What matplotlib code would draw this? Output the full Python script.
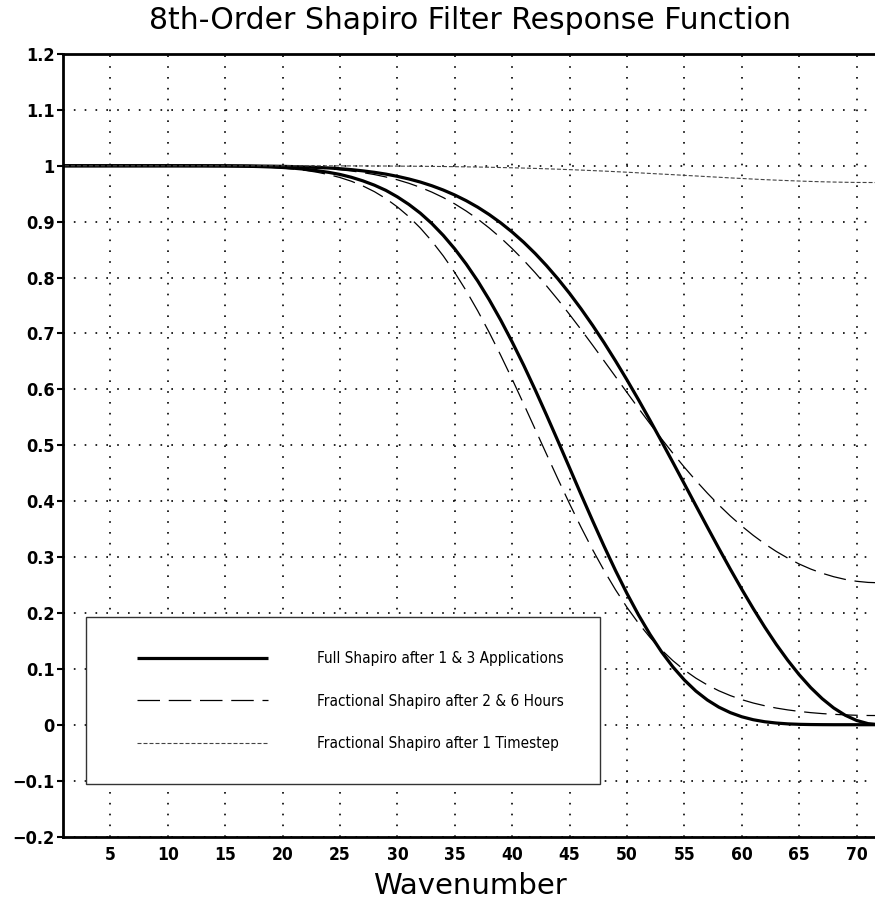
import matplotlib
matplotlib.use("Agg")
import matplotlib.pyplot as plt
from matplotlib.patches import Rectangle

# wavenumbers and response values
wavenumber = list(range(0, 73))

full_1app = [1, 1, 1, 1, 1, 1, 1, 1, 1, 1, 1, 1, 1.0, 1.0, 0.9999, 0.9999, 0.9998,
             0.9997, 0.9995, 0.9993, 0.9990, 0.9985, 0.9979, 0.9971, 0.9961, 0.9948,
             0.9931, 0.9909, 0.9883, 0.9851, 0.9811, 0.9764, 0.9709, 0.9643, 0.9566,
             0.9477, 0.9375, 0.9259, 0.9127, 0.8979, 0.8814, 0.8632, 0.8431, 0.8211,
             0.7973, 0.7716, 0.7440, 0.7147, 0.6836, 0.6509, 0.6168, 0.5814, 0.5448,
             0.5073, 0.4692, 0.4307, 0.3920, 0.3535, 0.3155, 0.2783, 0.2422, 0.2076,
             0.1746, 0.1437, 0.1153, 0.0894, 0.0664, 0.0466, 0.0300, 0.0170, 0.0076,
             0.0019, 0.0]

full_3app = [1, 1, 1, 1, 1, 1, 1, 1, 1, 1, 1, 1.0, 0.9999, 0.9999, 0.9998, 0.9997,
             0.9994, 0.9991, 0.9986, 0.9979, 0.9970, 0.9956, 0.9938, 0.9913, 0.9883,
             0.9845, 0.9794, 0.9730, 0.9653, 0.9560, 0.9444, 0.9309, 0.9152, 0.8967,
             0.8754, 0.8512, 0.8240, 0.7938, 0.7603, 0.7239, 0.6847, 0.6432, 0.5993,
             0.5536, 0.5068, 0.4594, 0.4118, 0.3651, 0.3195, 0.2758, 0.2347, 0.1965,
             0.1617, 0.1306, 0.1033, 0.0799, 0.0602, 0.0442, 0.0314, 0.0216, 0.0142,
             0.0089, 0.0053, 0.0030, 0.0015, 0.0007, 0.0003, 0.0001, 0.0, 0.0, 0.0,
             0.0, 0.0]

frac_2h = [1, 1, 1, 1, 1, 1, 1, 1, 1, 1, 1, 1, 1.0, 0.9999, 0.9999, 0.9998, 0.9997,
           0.9996, 0.9994, 0.9991, 0.9986, 0.9980, 0.9972, 0.9961, 0.9947, 0.9929,
           0.9907, 0.9878, 0.9843, 0.9800, 0.9749, 0.9687, 0.9614, 0.9529, 0.9431,
           0.9318, 0.9190, 0.9047, 0.8887, 0.8711, 0.8518, 0.8310, 0.8087, 0.7849,
           0.7600, 0.7339, 0.7069, 0.6792, 0.6510, 0.6227, 0.5943, 0.5662, 0.5386,
           0.5117, 0.4856, 0.4606, 0.4368, 0.4143, 0.3931, 0.3734, 0.3553, 0.3387,
           0.3236, 0.3100, 0.2981, 0.2875, 0.2785, 0.2710, 0.2648, 0.2600, 0.2566,
           0.2546, 0.2539]

frac_6h = [1, 1, 1, 1, 1, 1, 1, 1, 1, 1, 1, 1.0, 0.9999, 0.9998, 0.9997, 0.9995,
           0.9992, 0.9988, 0.9981, 0.9972, 0.9959, 0.9941, 0.9917, 0.9885, 0.9843,
           0.9790, 0.9723, 0.9639, 0.9537, 0.9413, 0.9264, 0.9090, 0.8886, 0.8652,
           0.8387, 0.8090, 0.7762, 0.7404, 0.7018, 0.6609, 0.6181, 0.5739, 0.5288,
           0.4836, 0.4389, 0.3952, 0.3532, 0.3133, 0.2760, 0.2414, 0.2099, 0.1816,
           0.1563, 0.1340, 0.1145, 0.0977, 0.0833, 0.0711, 0.0607, 0.0521, 0.0448,
           0.0388, 0.0339, 0.0298, 0.0265, 0.0238, 0.0216, 0.0199, 0.0186, 0.0176,
           0.0169, 0.0165, 0.0164]

frac_1step = [1, 1, 1, 1, 1, 1, 1, 1, 1, 1, 1, 1, 1, 1, 1, 1, 1, 1, 1, 1, 1, 1.0,
              0.9999, 0.9999, 0.9999, 0.9998, 0.9998, 0.9997, 0.9996, 0.9996, 0.9994,
              0.9993, 0.9991, 0.9989, 0.9987, 0.9984, 0.9981, 0.9978, 0.9974, 0.9969,
              0.9964, 0.9959, 0.9953, 0.9946, 0.9939, 0.9931, 0.9923, 0.9914, 0.9905,
              0.9895, 0.9885, 0.9874, 0.9863, 0.9852, 0.9841, 0.9829, 0.9818, 0.9806,
              0.9795, 0.9783, 0.9773, 0.9762, 0.9752, 0.9743, 0.9735, 0.9727, 0.9720,
              0.9714, 0.9709, 0.9705, 0.9702, 0.9701, 0.9700]

xticks = [5, 10, 15, 20, 25, 30, 35, 40, 45, 50, 55, 60, 65, 70]
yticks = [-0.2, -0.1, 0, 0.1, 0.2, 0.3, 0.4, 0.5, 0.6, 0.7, 0.8, 0.9, 1.0, 1.1, 1.2]
ytick_labels = ['\u22120.2', '\u22120.1', '0', '0.1', '0.2', '0.3', '0.4', '0.5',
                '0.6', '0.7', '0.8', '0.9', '1', '1.1', '1.2']

labels = ['Full Shapiro after 1 & 3 Applications',
          'Fractional Shapiro after 2 & 6 Hours',
          'Fractional Shapiro after 1 Timestep']

fig = plt.figure(figsize=(8.75, 9.13), dpi=100)
ax = fig.add_axes([63.5 / 875, 76.5 / 913, 811.5 / 875, 782.5 / 913])

solid = dict(color='black', lw=2.3, solid_capstyle='butt')
dashed = dict(color='black', lw=0.9, linestyle=(0, (18, 7)))
dotted = dict(color='#444444', lw=0.8, linestyle=(0, (3.6, 1.8)))

l1, = ax.plot(wavenumber, full_1app, **solid)
ax.plot(wavenumber, full_3app, **solid)
l2, = ax.plot(wavenumber, frac_2h, **dashed)
ax.plot(wavenumber, frac_6h, **dashed)
l3, = ax.plot(wavenumber, frac_1step, **dotted)

ax.set_xlim(0.92, 71.6)
ax.set_ylim(-0.2, 1.2)
ax.set_xticks(xticks)
ax.set_yticks(yticks)
ax.set_yticklabels(ytick_labels)

ax.set_axisbelow(True)
ax.grid(True, color='black', lw=1.2, linestyle=(0, (1, 5.5)))

for side in ['left', 'bottom', 'top']:
    ax.spines[side].set_linewidth(2.0)
ax.spines['right'].set_visible(False)

ax.tick_params(axis='y', direction='out', length=4.5, width=1.5, pad=2)
ax.tick_params(axis='x', direction='out', length=0, pad=7)
for lab in ax.get_yticklabels():
    lab.set_fontweight('bold')
    lab.set_fontsize(13)
    lab.set_fontstretch('condensed')
for lab in ax.get_xticklabels():
    lab.set_fontweight('bold')
    lab.set_fontsize(12.5)
    lab.set_fontstretch('condensed')

# legend box (white, covers the grid)
box = Rectangle((0.0277, 0.0671), 0.6334, 0.2134, transform=ax.transAxes,
                facecolor='white', edgecolor='#333333', lw=1.0, zorder=3)
ax.add_patch(box)
leg = ax.legend([l1, l2, l3], labels, loc='upper left',
                bbox_to_anchor=(0.0906, 0.237), borderaxespad=0, borderpad=0,
                frameon=False, handlelength=8.55, handletextpad=3.2,
                labelspacing=1.8,
                prop={'size': 11, 'stretch': 'condensed'})
leg.set_zorder(4)

fig.text(0.537, 0.978, '8th-Order Shapiro Filter Response Function',
         ha='center', va='center', fontsize=21.5)
fig.text(0.537, 1 - 886 / 913, 'Wavenumber', ha='center', va='center', fontsize=21)

fig.savefig('out.png', dpi=100)
